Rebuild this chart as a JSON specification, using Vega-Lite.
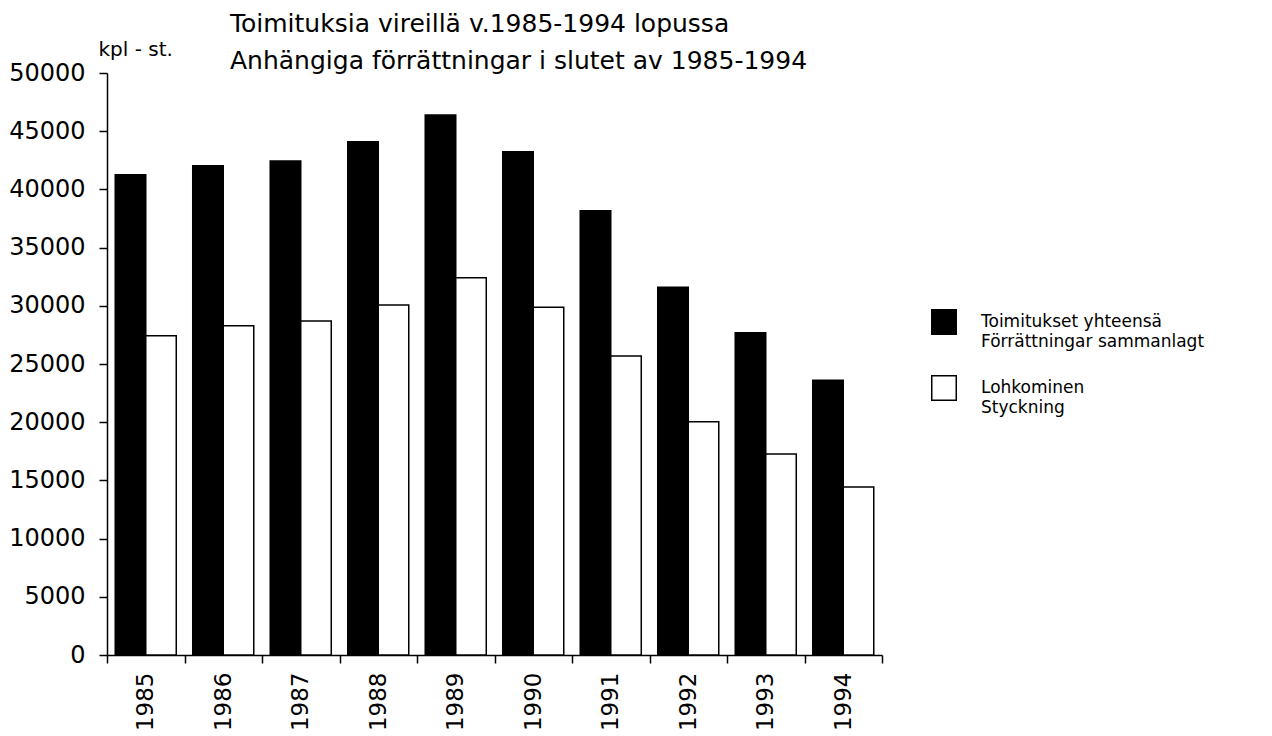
{
  "$schema": "https://vega.github.io/schema/vega-lite/v6.json",
  "width": 775,
  "height": 582,
  "autosize": {"type": "none"},
  "padding": {"left": 107, "top": 73, "right": 390, "bottom": 81},
  "background": "white",
  "title": {
    "text": ["Toimituksia vireillä v.1985-1994 lopussa", "Anhängiga förrättningar i slutet av  1985-1994"],
    "anchor": "start",
    "frame": "group",
    "dx": 123,
    "offset": -35,
    "font": "DejaVu Sans",
    "fontSize": 25,
    "fontWeight": "normal",
    "lineHeight": 37,
    "color": "black"
  },
  "data": {
    "values": [
      {"year": "1985", "series": "A", "value": 41250},
      {"year": "1985", "series": "B", "value": 27430},
      {"year": "1986", "series": "A", "value": 42040},
      {"year": "1986", "series": "B", "value": 28290},
      {"year": "1987", "series": "A", "value": 42440},
      {"year": "1987", "series": "B", "value": 28690},
      {"year": "1988", "series": "A", "value": 44100},
      {"year": "1988", "series": "B", "value": 30070},
      {"year": "1989", "series": "A", "value": 46390},
      {"year": "1989", "series": "B", "value": 32410},
      {"year": "1990", "series": "A", "value": 43240},
      {"year": "1990", "series": "B", "value": 29870},
      {"year": "1991", "series": "A", "value": 38170},
      {"year": "1991", "series": "B", "value": 25690},
      {"year": "1992", "series": "A", "value": 31590},
      {"year": "1992", "series": "B", "value": 20040},
      {"year": "1993", "series": "A", "value": 27690},
      {"year": "1993", "series": "B", "value": 17270},
      {"year": "1994", "series": "A", "value": 23600},
      {"year": "1994", "series": "B", "value": 14430}
    ]
  },
  "mark": {"type": "bar", "stroke": "black", "strokeWidth": 1.5},
  "encoding": {
    "x": {
      "field": "year",
      "type": "nominal",
      "scale": {"paddingInner": 0, "paddingOuter": 0},
      "axis": {
        "title": null,
        "labelAngle": 270,
        "labelAlign": "right",
        "labelBaseline": "middle",
        "labelFont": "DejaVu Sans",
        "labelFontSize": 23,
        "labelColor": "black",
        "labelPadding": 9,
        "tickBand": "extent",
        "tickSize": 8,
        "tickColor": "black",
        "tickWidth": 1.5,
        "domainColor": "black",
        "domainWidth": 1.5,
        "grid": false
      }
    },
    "xOffset": {"field": "series", "type": "nominal", "scale": {"paddingInner": 0, "paddingOuter": 0.27}},
    "y": {
      "field": "value",
      "type": "quantitative",
      "scale": {"domain": [0, 50000], "nice": false},
      "axis": {
        "title": "kpl - st.",
        "titleAngle": 0,
        "titleAlign": "left",
        "titleBaseline": "alphabetic",
        "titleX": -9,
        "titleY": -18,
        "titleFont": "DejaVu Sans",
        "titleFontSize": 20,
        "titleFontWeight": "normal",
        "titleColor": "black",
        "values": [0, 5000, 10000, 15000, 20000, 25000, 30000, 35000, 40000, 45000, 50000],
        "format": "d",
        "labelFont": "DejaVu Sans",
        "labelFontSize": 24,
        "labelColor": "black",
        "labelPadding": 14,
        "tickSize": 8,
        "tickColor": "black",
        "tickWidth": 1.5,
        "domainColor": "black",
        "domainWidth": 1.5,
        "grid": false
      }
    },
    "fill": {
      "field": "series",
      "type": "nominal",
      "scale": {"domain": ["A", "B"], "range": ["black", "white"]},
      "legend": {
        "title": null,
        "orient": "none",
        "legendX": 824,
        "legendY": 236,
        "symbolType": "square",
        "symbolSize": 600,
        "symbolStrokeColor": "black",
        "symbolStrokeWidth": 1.5,
        "labelFont": "DejaVu Sans",
        "labelFontSize": 17,
        "labelColor": "black",
        "labelOffset": 24,
        "labelLimit": 400,
        "rowPadding": 22,
        "labelExpr": "datum.label == 'A' ? ['Toimitukset yhteensä', 'Förrättningar sammanlagt'] : ['Lohkominen', 'Styckning']"
      }
    }
  },
  "config": {
    "view": {"stroke": null},
    "style": {"guide-label": {"lineHeight": 20}}
  }
}
